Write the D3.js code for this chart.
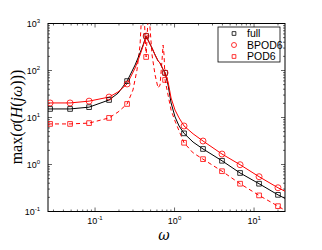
<html>
<head>
<meta charset="UTF-8">
<style>
  body { margin: 0; background: #fff; }
</style>
</head>
<body>
<script src="https://cdnjs.cloudflare.com/ajax/libs/d3/7.8.5/d3.min.js"></script>
<script>
// frequency grid (rad/s) for the solid curves
var omega = [0.0256, 0.0272, 0.0485, 0.0841, 0.150, 0.195, 0.253, 0.319, 0.368, 0.402, 0.439,
             0.478, 0.521, 0.569, 0.620, 0.657, 0.717, 0.760, 0.829, 0.904, 1.014, 1.14, 1.316,
             1.71, 2.28, 3.95, 6.67, 11.56, 20.0, 24.5];
var full  = [15.2, 15.2, 15.2, 16.6, 23.6, 33, 59.6, 131, 236, 348, 542,
             400, 300, 214, 160, 144, 105, 89, 49, 20.5, 10.3, 6.6, 4.6,
             3.0, 2.14, 1.2, 0.66, 0.39, 0.226, 0.19];
var bpod6 = [20.4, 20.4, 20.4, 22.3, 27.2, 35, 51.7, 113, 214, 332, 542,
             400, 300, 214, 160, 144, 105, 89, 57, 26, 14.4, 9.8, 6.6,
             4.5, 3.16, 1.67, 0.99, 0.55, 0.32, 0.27];

// POD6 needs a finer grid around its resonances
var podOmega = [0.0256, 0.0272, 0.0485, 0.0841, 0.150, 0.195, 0.253, 0.300, 0.337, 0.368, 0.385,
                0.402, 0.420, 0.439, 0.459, 0.478, 0.499, 0.521, 0.569, 0.620, 0.657, 0.696,
                0.717, 0.738, 0.760, 0.829, 0.904, 1.014, 1.14, 1.316, 1.71, 2.28, 3.95, 6.67,
                11.56, 20.0, 24.5];
var pod6 = [7.3, 7.3, 7.3, 7.6, 9.8, 13.1, 19.4, 38.5, 103, 348, 1500,
            1900, 930, 194, 930, 1500, 570, 214, 80, 42.5, 49, 167,
            348, 214, 63, 30, 14.4, 8.4, 5.2, 2.9, 1.77, 1.3, 0.72, 0.39,
            0.22, 0.13, 0.106];

// marker positions
var markOmega = [0.0272, 0.0485, 0.0841, 0.150, 0.253, 0.439, 0.760, 1.316, 2.28, 3.95, 6.67, 11.56, 20.0];
var fullMarks = [15.2, 15.2, 16.6, 23.6, 59.6, 542, 89, 4.6, 2.14, 1.2, 0.66, 0.39, 0.226];
var bpodMarks = [20.4, 20.4, 22.3, 27.2, 51.7, 542, 89, 6.6, 3.16, 1.67, 0.99, 0.55, 0.32];
var podMarks  = [7.3, 7.3, 7.6, 9.8, 19.4, 194, 63, 2.9, 1.3, 0.72, 0.39, 0.22, 0.13];

var legendNames = ["full", "BPOD6", "POD6"];
var yTicks = [0.1, 1, 10, 100, 1000];
var xTicks = [0.1, 1, 10];

var W = 322, H = 250;
var margin = {top: 23.5, right: 37, bottom: 38.5, left: 48};
var width = W - margin.left - margin.right,
    height = H - margin.top - margin.bottom;

var svg = d3.select("body").append("svg")
  .attr("width", W).attr("height", H);

var g = svg.append("g")
  .attr("transform", "translate(" + margin.left + "," + margin.top + ")");

var x = d3.scaleLog().domain([0.0256, 24.5]).range([0, width]);
var y = d3.scaleLog().domain([0.1, 1000]).range([height, 0]);

g.append("defs").append("clipPath").attr("id", "clip")
  .append("rect").attr("width", width).attr("height", height);

// minor ticks helper
function minor(scale) {
  var d = scale.domain(), out = [];
  for (var e = -3; e <= 3; e++) {
    for (var k = 1; k < 10; k++) {
      var v = k * Math.pow(10, e);
      if (v >= d[0] * 0.999 && v <= d[1] * 1.001) out.push(v);
    }
  }
  return out;
}

function sup(sel) {
  sel.each(function(d) {
    var t = d3.select(this).text("");
    t.append("tspan").text("10");
    t.append("tspan").attr("dy", -4).attr("font-size", 6).text(Math.round(Math.log10(d)));
  });
}

var xMin = minor(x), yMin = minor(y);

// ticks (inward, on all four sides)
var tk = g.append("g").attr("stroke", "#000").attr("stroke-width", 0.6);
xMin.forEach(function(v) {
  var len = xTicks.indexOf(v) >= 0 ? 4 : 2;
  tk.append("line").attr("x1", x(v)).attr("x2", x(v)).attr("y1", height).attr("y2", height - len);
  tk.append("line").attr("x1", x(v)).attr("x2", x(v)).attr("y1", 0).attr("y2", len);
});
yMin.forEach(function(v) {
  var len = yTicks.indexOf(v) >= 0 ? 4 : 2;
  tk.append("line").attr("y1", y(v)).attr("y2", y(v)).attr("x1", 0).attr("x2", len);
  tk.append("line").attr("y1", y(v)).attr("y2", y(v)).attr("x1", width).attr("x2", width - len);
});

// tick labels
g.selectAll(".xl").data(xTicks).enter().append("text")
  .attr("x", function(d) { return x(d); })
  .attr("y", height + 12)
  .attr("text-anchor", "middle")
  .attr("font-family", "Liberation Sans, Arial, sans-serif")
  .attr("font-size", 9)
  .call(sup);

g.selectAll(".yl").data(yTicks).enter().append("text")
  .attr("x", -8)
  .attr("y", function(d) { return y(d) + 3; })
  .attr("text-anchor", "end")
  .attr("font-family", "Liberation Sans, Arial, sans-serif")
  .attr("font-size", 9)
  .call(sup);

// frame
g.append("rect").attr("width", width).attr("height", height)
  .attr("fill", "none").attr("stroke", "#000").attr("stroke-width", 1);

var plot = g.append("g").attr("clip-path", "url(#clip)");

var line = d3.line()
  .x(function(d) { return x(d[0]); })
  .y(function(d) { return y(d[1]); });

function pairs(xs, ys) { return xs.map(function(v, i) { return [v, ys[i]]; }); }

plot.append("path").datum(pairs(podOmega, pod6))
  .attr("d", line).attr("fill", "none").attr("stroke", "#ff0000")
  .attr("stroke-width", 1).attr("stroke-dasharray", "4,3");
plot.append("path").datum(pairs(omega, full))
  .attr("d", line).attr("fill", "none").attr("stroke", "#000").attr("stroke-width", 1);
plot.append("path").datum(pairs(omega, bpod6))
  .attr("d", line).attr("fill", "none").attr("stroke", "#ff0000").attr("stroke-width", 1);

var sq = d3.symbol().type(d3.symbolSquare).size(22);

plot.selectAll(".mf").data(pairs(markOmega, fullMarks)).enter().append("path")
  .attr("d", sq).attr("transform", function(d) { return "translate(" + x(d[0]) + "," + y(d[1]) + ")"; })
  .attr("fill", "none").attr("stroke", "#000").attr("stroke-width", 0.8);
plot.selectAll(".mb").data(pairs(markOmega, bpodMarks)).enter().append("circle")
  .attr("cx", function(d) { return x(d[0]); }).attr("cy", function(d) { return y(d[1]); })
  .attr("r", 3).attr("fill", "none").attr("stroke", "#ff0000").attr("stroke-width", 0.8);
plot.selectAll(".mp").data(pairs(markOmega, podMarks)).enter().append("path")
  .attr("d", sq).attr("transform", function(d) { return "translate(" + x(d[0]) + "," + y(d[1]) + ")"; })
  .attr("fill", "none").attr("stroke", "#ff0000").attr("stroke-width", 0.8);

// legend
var lg = svg.append("g").attr("transform", "translate(218,27)");
lg.append("rect").attr("width", 62).attr("height", 35)
  .attr("fill", "#fff").attr("stroke", "#000").attr("stroke-width", 0.8);
var rows = lg.selectAll(".row").data(legendNames).enter().append("g")
  .attr("transform", function(d, i) { return "translate(0," + (6.5 + i * 11.5) + ")"; });
rows.each(function(d, i) {
  var r = d3.select(this);
  if (i === 1) {
    r.append("circle").attr("cx", 16).attr("cy", 0).attr("r", 2.5)
      .attr("fill", "none").attr("stroke", "#ff0000").attr("stroke-width", 0.8);
  } else {
    r.append("path").attr("d", d3.symbol().type(d3.symbolSquare).size(14))
      .attr("transform", "translate(16,0)")
      .attr("fill", "none").attr("stroke", i === 0 ? "#000" : "#ff0000").attr("stroke-width", 0.8);
  }
  r.append("text").attr("x", 29).attr("y", 3.8)
    .attr("font-family", "Liberation Sans, Arial, sans-serif").attr("font-size", 10.5)
    .text(d);
});

// axis labels
svg.append("text")
  .attr("x", 164).attr("y", 240)
  .attr("text-anchor", "middle")
  .attr("font-family", "DejaVu Serif, Liberation Serif, serif")
  .attr("font-style", "italic").attr("font-size", 14)
  .text("ω");

var yl = svg.append("text")
  .attr("transform", "translate(22,117) rotate(-90)")
  .attr("text-anchor", "middle")
  .attr("font-family", "Liberation Serif, DejaVu Serif, serif")
  .attr("font-size", 16);
yl.append("tspan").text("max(");
yl.append("tspan").attr("font-style", "italic").text("σ");
yl.append("tspan").text("(");
yl.append("tspan").attr("font-style", "italic").text("H");
yl.append("tspan").text("(");
yl.append("tspan").attr("font-style", "italic").text("jω");
yl.append("tspan").text(")))");
</script>
</body>
</html>
